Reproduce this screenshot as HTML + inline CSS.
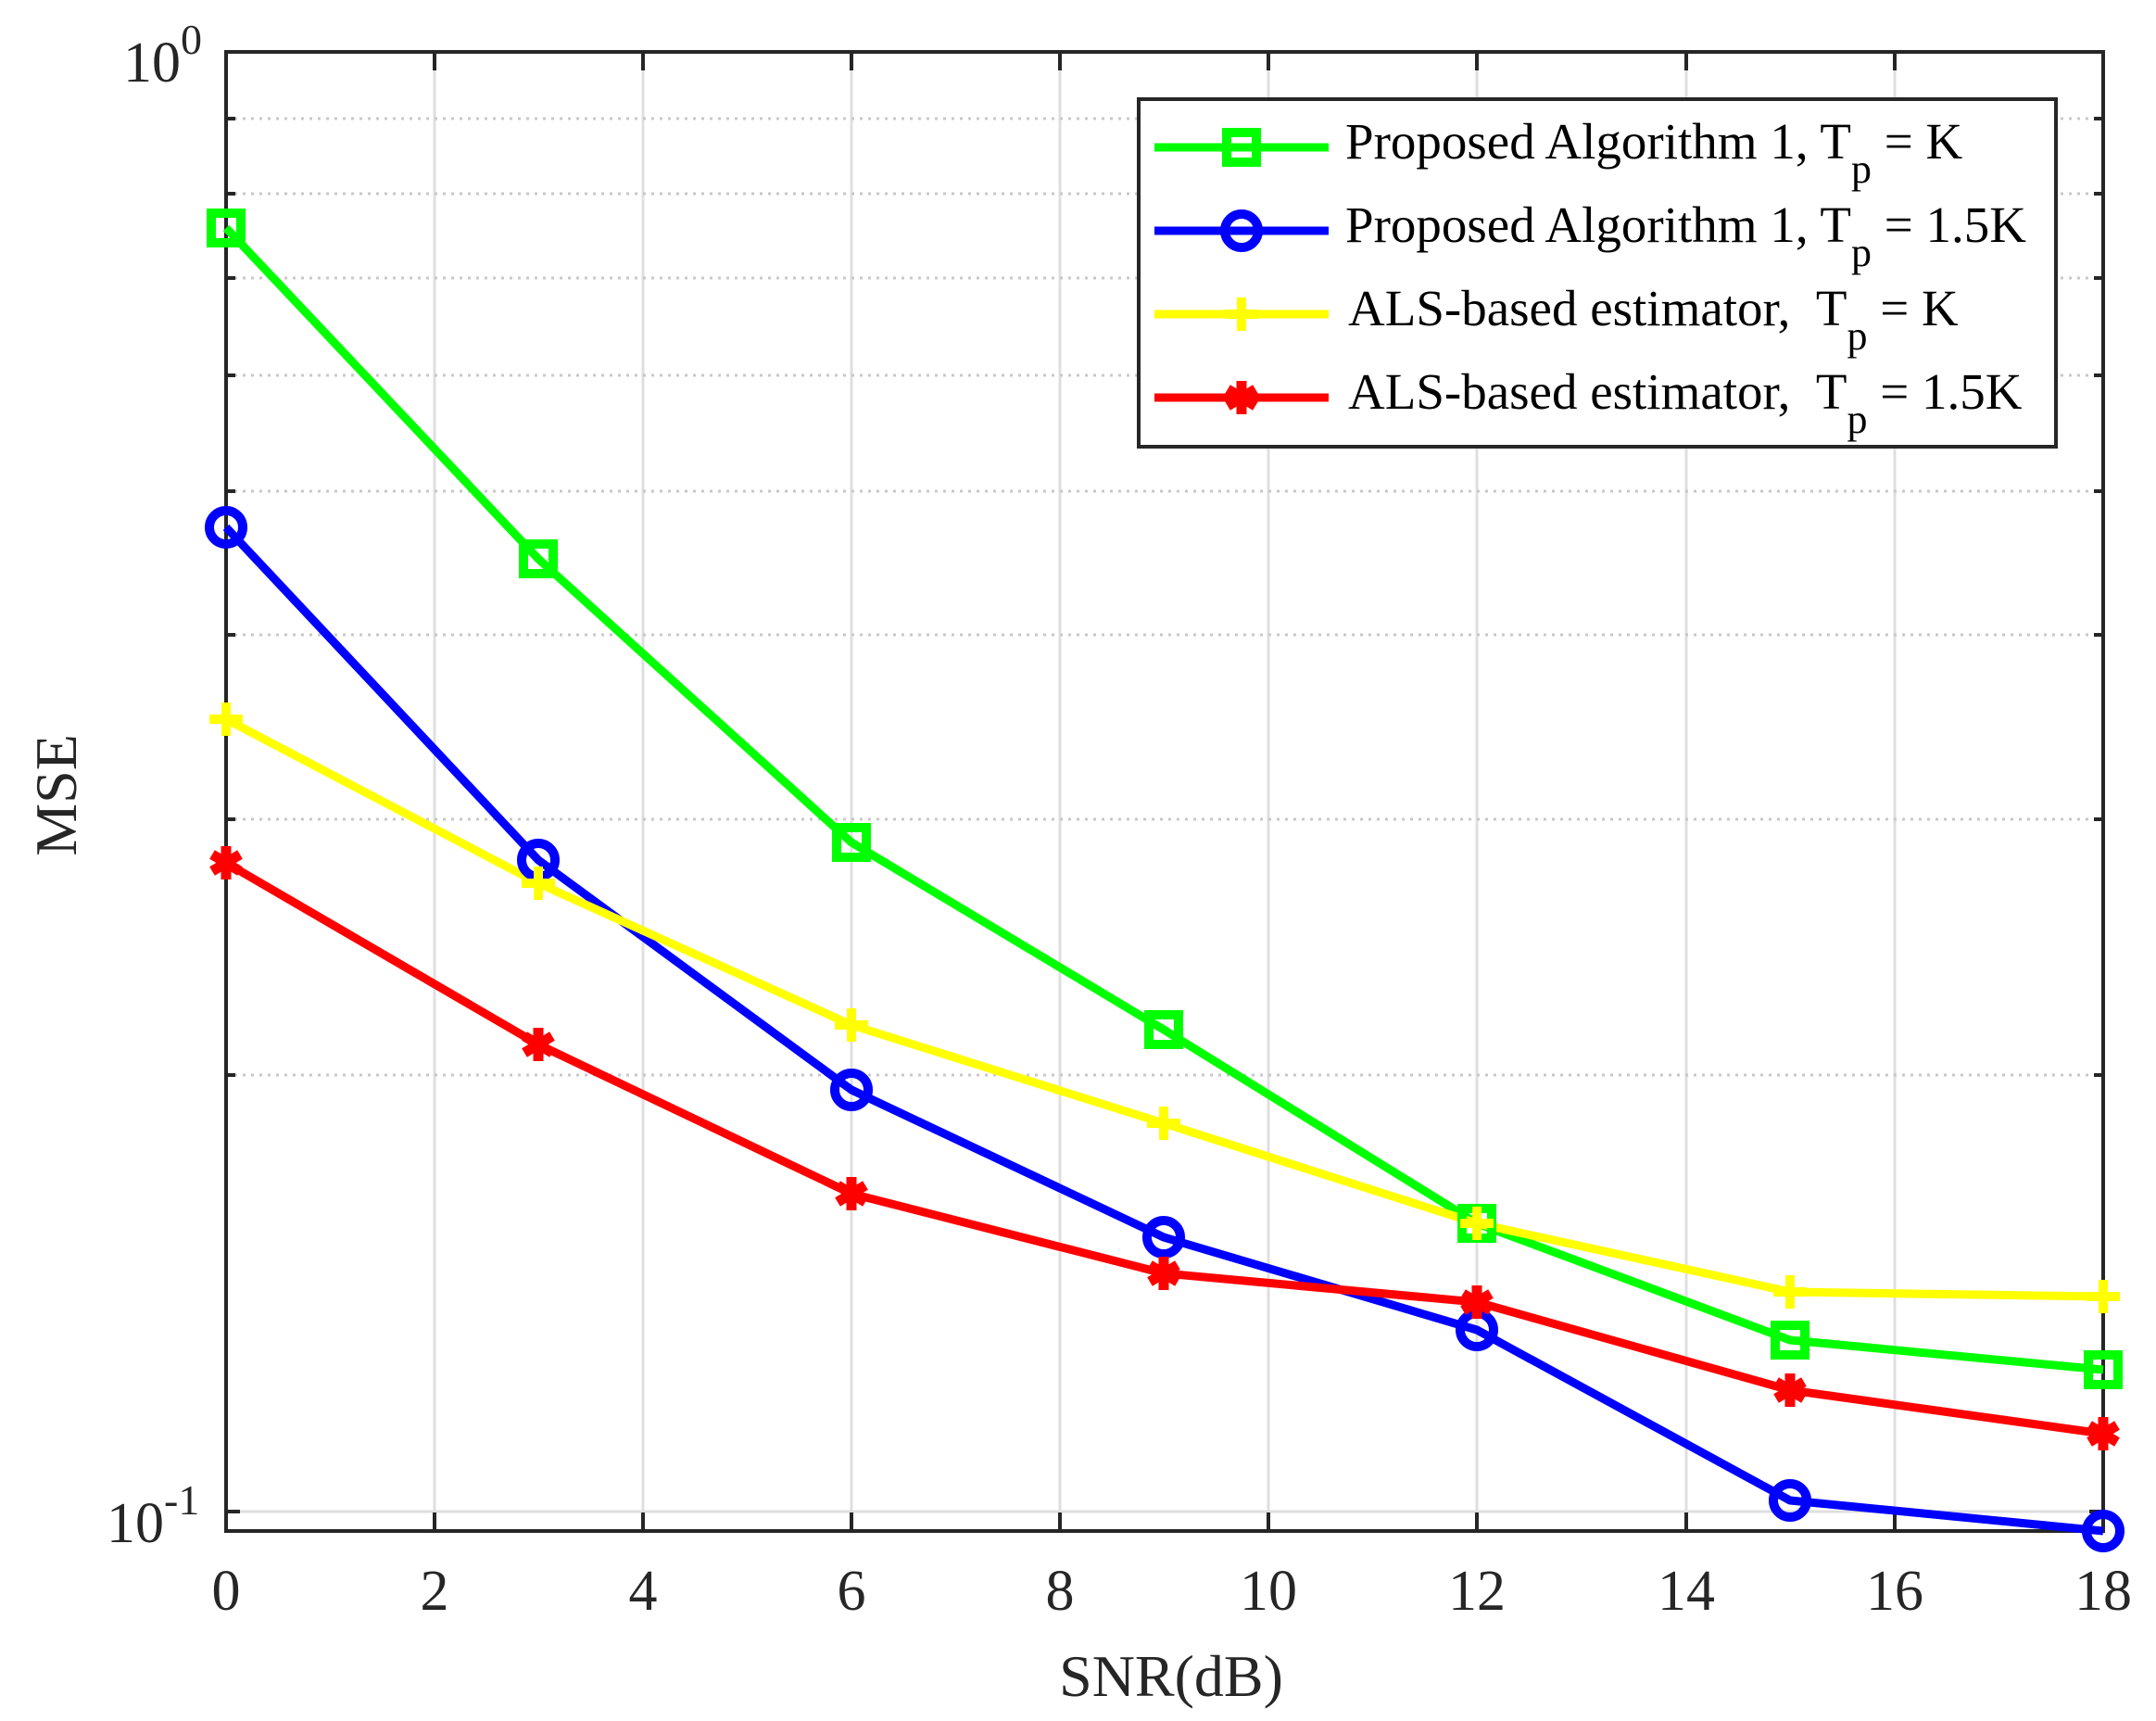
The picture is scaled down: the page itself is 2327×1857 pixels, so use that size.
<!DOCTYPE html>
<html><head><meta charset="utf-8"><style>
html,body{margin:0;padding:0;background:#fff;}
svg{display:block;}
text{font-family:"Liberation Serif",serif;fill:#262626;}
</style></head><body>
<svg width="2327" height="1857" viewBox="0 0 2327 1857" xmlns="http://www.w3.org/2000/svg">
<rect width="2327" height="1857" fill="#fff"/>
<g stroke="#dfdfdf" stroke-width="3">
<line x1="469" y1="56" x2="469" y2="1652"/><line x1="694" y1="56" x2="694" y2="1652"/>
<line x1="919" y1="56" x2="919" y2="1652"/><line x1="1144" y1="56" x2="1144" y2="1652"/>
<line x1="1369" y1="56" x2="1369" y2="1652"/><line x1="1594" y1="56" x2="1594" y2="1652"/>
<line x1="1820" y1="56" x2="1820" y2="1652"/><line x1="2045" y1="56" x2="2045" y2="1652"/>
<line x1="244" y1="1631" x2="2270" y2="1631"/>
</g>
<g stroke="#c8c8c8" stroke-width="3" stroke-dasharray="3,6">
<line x1="244" y1="128" x2="2270" y2="128"/>
<line x1="244" y1="209" x2="2270" y2="209"/>
<line x1="244" y1="300" x2="2270" y2="300"/>
<line x1="244" y1="405" x2="2270" y2="405"/>
<line x1="244" y1="530" x2="2270" y2="530"/>
<line x1="244" y1="685" x2="2270" y2="685"/>
<line x1="244" y1="884" x2="2270" y2="884"/>
<line x1="244" y1="1160" x2="2270" y2="1160"/>
</g>
<g stroke="#262626" stroke-width="4">
<path d="M469 1652v-20M694 1652v-20M919 1652v-20M1144 1652v-20M1369 1652v-20M1594 1652v-20M1820 1652v-20M2045 1652v-20"/>
<path d="M469 56v20M694 56v20M919 56v20M1144 56v20M1369 56v20M1594 56v20M1820 56v20M2045 56v20"/>
<path d="M244 1631h15M244 128h10M244 209h10M244 300h10M244 405h10M244 530h10M244 685h10M244 884h10M244 1160h10"/>
<path d="M2270 1631h-15M2270 128h-10M2270 209h-10M2270 300h-10M2270 405h-10M2270 530h-10M2270 685h-10M2270 884h-10M2270 1160h-10"/>
</g>
<rect x="244" y="56" width="2026" height="1596" fill="none" stroke="#262626" stroke-width="4"/>
<g fill="none" stroke-width="9" stroke-linejoin="round">
<polyline stroke="#00ff00" points="244,246 581,603 919,909 1256,1111 1594,1320 1932,1446 2270,1478"/>
<polyline stroke="#0000ff" points="244,569 581,928 919,1176 1256,1335 1594,1435 1932,1619 2270,1652"/>
<polyline stroke="#ffff00" points="244,776 581,953 919,1106 1256,1212 1594,1320 1932,1394 2270,1399"/>
<polyline stroke="#ff0000" points="244,931 581,1127 919,1288 1256,1374 1594,1405 1932,1500 2270,1547"/>
</g>
<g fill="none" stroke="#00ff00" stroke-width="10">
<rect x="228" y="230" width="32" height="32"/><rect x="565" y="587" width="32" height="32"/><rect x="903" y="893" width="32" height="32"/><rect x="1240" y="1095" width="32" height="32"/><rect x="1578" y="1304" width="32" height="32"/><rect x="1916" y="1430" width="32" height="32"/><rect x="2254" y="1462" width="32" height="32"/>
</g>
<g fill="none" stroke="#0000ff" stroke-width="10">
<circle cx="244" cy="569" r="18"/><circle cx="581" cy="928" r="18"/><circle cx="919" cy="1176" r="18"/><circle cx="1256" cy="1335" r="18"/><circle cx="1594" cy="1435" r="18"/><circle cx="1932" cy="1619" r="18"/><circle cx="2270" cy="1652" r="18"/>
</g>
<g stroke="#ffff00" stroke-width="10">
<path d="M226 776h36M244 758v36M563 953h36M581 935v36M901 1106h36M919 1088v36M1238 1212h36M1256 1194v36M1576 1320h36M1594 1302v36M1914 1394h36M1932 1376v36M2252 1399h36M2270 1381v36"/>
</g>
<g stroke="#ff0000" stroke-width="11">
<path d="M0 -18V18M-15 -9L15 9M-15 9L15 -9" transform="translate(244,931)"/>
<path d="M0 -18V18M-15 -9L15 9M-15 9L15 -9" transform="translate(581,1127)"/>
<path d="M0 -18V18M-15 -9L15 9M-15 9L15 -9" transform="translate(919,1288)"/>
<path d="M0 -18V18M-15 -9L15 9M-15 9L15 -9" transform="translate(1256,1374)"/>
<path d="M0 -18V18M-15 -9L15 9M-15 9L15 -9" transform="translate(1594,1405)"/>
<path d="M0 -18V18M-15 -9L15 9M-15 9L15 -9" transform="translate(1932,1500)"/>
<path d="M0 -18V18M-15 -9L15 9M-15 9L15 -9" transform="translate(2270,1547)"/>
</g>
<rect x="1229" y="107" width="990" height="375" fill="#fff" stroke="#262626" stroke-width="4"/>
<g stroke-width="9">
<line x1="1246" y1="159" x2="1434" y2="159" stroke="#00ff00"/>
<line x1="1246" y1="249" x2="1434" y2="249" stroke="#0000ff"/>
<line x1="1246" y1="339" x2="1434" y2="339" stroke="#ffff00"/>
<line x1="1246" y1="429" x2="1434" y2="429" stroke="#ff0000"/>
</g>
<rect x="1324" y="143" width="32" height="32" fill="none" stroke="#00ff00" stroke-width="10"/>
<circle cx="1340" cy="249" r="18" fill="none" stroke="#0000ff" stroke-width="10"/>
<path d="M1322 339h36M1340 321v36" stroke="#ffff00" stroke-width="10"/>
<path d="M0 -18V18M-15 -9L15 9M-15 9L15 -9" transform="translate(1340,429)" stroke="#ff0000" stroke-width="11"/>
<g font-size="55">
<text x="1452" y="171" style="fill:#000">Proposed Algorithm 1, T<tspan dy="26" font-size="44">p</tspan><tspan dy="-26"> = K</tspan></text>
<text x="1452" y="261" style="fill:#000">Proposed Algorithm 1, T<tspan dy="26" font-size="44">p</tspan><tspan dy="-26"> = 1.5K</tspan></text>
<text x="1455" y="351" style="fill:#000">ALS-based estimator,&#160;&#160;T<tspan dy="26" font-size="44">p</tspan><tspan dy="-26"> = K</tspan></text>
<text x="1455" y="441" style="fill:#000">ALS-based estimator,&#160;&#160;T<tspan dy="26" font-size="44">p</tspan><tspan dy="-26"> = 1.5K</tspan></text>
</g>
<g font-size="62" text-anchor="middle">
<text x="244" y="1737">0</text><text x="469" y="1737">2</text><text x="694" y="1737">4</text><text x="919" y="1737">6</text><text x="1144" y="1737">8</text><text x="1369" y="1737">10</text><text x="1594" y="1737">12</text><text x="1820" y="1737">14</text><text x="2045" y="1737">16</text><text x="2270" y="1737">18</text>
</g>
<text x="133" y="88" font-size="62">10</text><text x="195" y="58" font-size="46">0</text>
<text x="115" y="1664" font-size="62">10</text><text x="177" y="1634" font-size="46">-1</text>
<text x="1264" y="1830" font-size="64" text-anchor="middle">SNR(dB)</text>
<text transform="translate(82,858) rotate(-90)" font-size="64" text-anchor="middle">MSE</text>
</svg>
</body></html>
